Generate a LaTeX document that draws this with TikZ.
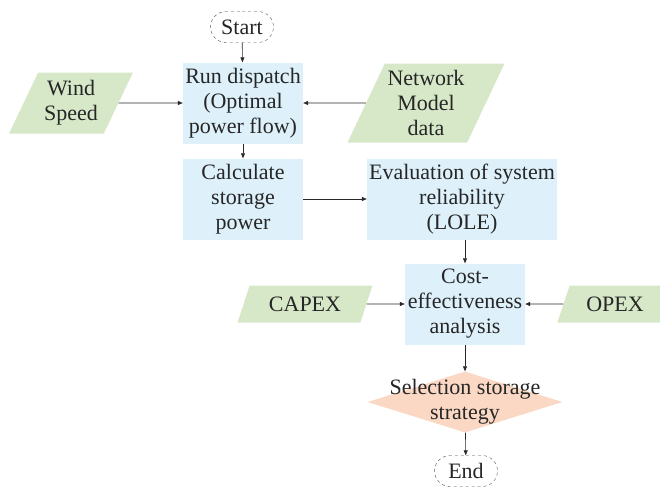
\documentclass[tikz,border=0pt]{standalone}
\usepackage{fontspec}
\setmainfont{Liberation Serif}
\usetikzlibrary{shapes.geometric,shapes.misc,arrows.meta}
\definecolor{boxblue}{RGB}{222,241,250}
\definecolor{inpgreen}{RGB}{214,232,200}
\definecolor{decpeach}{RGB}{250,216,196}
\definecolor{linegray}{RGB}{40,40,40}
\begin{document}
\begin{tikzpicture}[x=1pt,y=-1pt,
  every node/.style={font=\fontsize{22}{25}\selectfont, text=black!85, align=center, inner sep=0pt},
  procbox/.style={rectangle, fill=boxblue, minimum width=120pt, minimum height=81pt},
  inbox/.style={trapezium, trapezium left angle=62, trapezium right angle=118, trapezium stretches=true, fill=inpgreen},
  term/.style={rounded rectangle, draw=black!70, dashed, minimum width=63pt, minimum height=31pt},
  decbox/.style={diamond, aspect=3.2, fill=decpeach, minimum width=195pt, minimum height=61pt},
  conn/.style={draw=linegray, line width=0.6pt, -{Triangle[length=5pt,width=4pt]}}
]
\useasboundingbox (0,0) rectangle (660,487);
\node[term] (start) at (242,27) {Start};
\node[procbox] (run) at (243,103) {Run dispatch\\(Optimal\\power flow)};
\node[inbox, minimum width=124pt, minimum height=61pt] (wind) at (71,103) {Wind\\Speed};
\node[inbox, minimum width=157pt, minimum height=79pt] (net) at (426,103) {Network\\Model\\data};
\node[procbox] (calc) at (243,199) {Calculate\\storage\\power};
\node[procbox, minimum width=190pt] (eval) at (462,199) {Evaluation of system\\reliability\\(LOLE)};
\node[procbox] (cost) at (465,304) {Cost-\\effectiveness\\analysis};
\node[inbox, minimum width=136pt, minimum height=37pt] (capex) at (305,304) {CAPEX};
\node[inbox, minimum width=116pt, minimum height=37pt] (opex) at (615,304) {OPEX};
\node[decbox] (sel) at (465,402) {};
\node (seltext) at (465,402) {Selection storage\\strategy};
\node[term] (end) at (466,471) {End};
\draw[conn] (start) -- (run);
\draw[conn] (wind) -- (run);
\draw[conn] (net) -- (run);
\draw[conn] (run) -- (calc);
\draw[conn] (calc) -- (eval);
\draw[conn] (eval.south -| cost) -- (cost.north);
\draw[conn] (capex) -- (cost);
\draw[conn] (opex) -- (cost);
\draw[conn] (cost) -- (sel);
\draw[conn] (sel) -- (end);
\end{tikzpicture}
\end{document}
